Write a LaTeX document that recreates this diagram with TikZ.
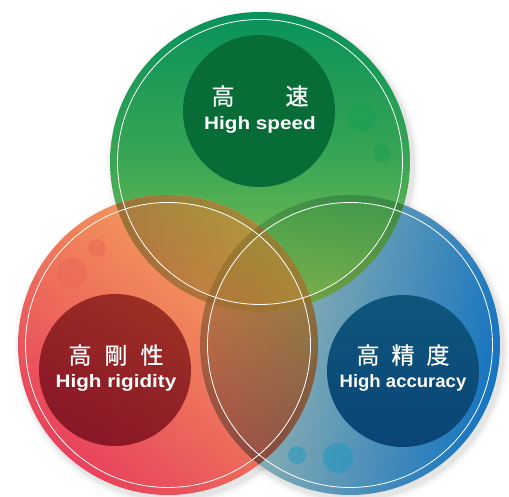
\documentclass[tikz,border=0pt]{standalone}
\usepackage{fontspec}
\setmainfont{Liberation Sans}
\newfontfamily\jpfont[FakeBold=0.6]{Noto Sans CJK JP}

% palette
\definecolor{grnTop}{RGB}{8,146,90}
\definecolor{grnMid}{RGB}{58,166,84}
\definecolor{grnBot}{RGB}{150,198,82}
\definecolor{redTop}{RGB}{246,174,90}
\definecolor{redBot}{RGB}{232,66,92}
\definecolor{bluL}{RGB}{176,194,174}
\definecolor{bluR}{RGB}{22,116,192}
\definecolor{grnCore}{RGB}{8,108,54}
\definecolor{redCoreT}{RGB}{156,46,36}
\definecolor{redCoreB}{RGB}{138,22,40}
\definecolor{bluCoreT}{RGB}{14,86,124}
\definecolor{bluCoreB}{RGB}{10,68,118}
\definecolor{grnDot}{RGB}{20,158,84}
\definecolor{redDot}{RGB}{232,100,84}
\definecolor{bluDot}{RGB}{20,150,194}

\tikzset{
  greenfill/.style={top color=grnTop, bottom color=grnBot, middle color=grnMid},
  redfill/.style={top color=redTop, bottom color=redBot, shading angle=-40},
  bluefill/.style={left color=bluL, right color=bluR, shading angle=78},
  rim/.style={draw=black, draw opacity=0.08, line width=7pt},
  ring/.style={draw=white, line width=0.8pt},
  dot/.style={fill opacity=0.45},
  jp/.style={text=white, inner sep=0pt, font=\jpfont\fontsize{23}{23}\selectfont},
  en/.style={text=white, inner sep=0pt, font=\bfseries\fontsize{18}{20}\selectfont},
}

\def\discG{(260,335) circle (150)}
\def\discR{(168,152) circle (150)}
\def\discB{(350,152) circle (150)}

\begin{document}
\begin{tikzpicture}[x=1pt,y=1pt]
\useasboundingbox (0,0) rectangle (509,497);

% soft drop shadows
\foreach \r/\o in {157/0.015,155/0.02,153/0.03,151.5/0.04} {
  \fill[black, fill opacity=\o] (263,331) circle (\r);
  \fill[black, fill opacity=\o] (171,148) circle (\r);
  \fill[black, fill opacity=\o] (353,148) circle (\r);
}

% three discs, opaque
\shade[greenfill] \discG;
\shade[redfill]   \discR;
\shade[bluefill]  \discB;

% red over blue: redraw red, tint with blue
\begin{scope}
  \clip \discB;
  \shade[redfill] \discR;
\end{scope}
\begin{scope}[blend mode=multiply]
  \clip \discR;
  \shade[bluefill, fill opacity=0.75] \discB;
\end{scope}

% green over blue: green with a light blue tint
\begin{scope}
  \clip \discG; \clip \discB;
  \shade[greenfill] \discG;
\end{scope}
\begin{scope}[blend mode=multiply]
  \clip \discG; \clip \discB;
  \shade[bluefill, fill opacity=0.3] \discB;
\end{scope}

% green over red, and the centre lens
\begin{scope}
  \clip \discG; \clip \discR;
  \shade[redfill] \discR;
\end{scope}
\begin{scope}[blend mode=multiply]
  \clip \discG; \clip \discR; \clip \discB;
  \shade[bluefill, fill opacity=0.25] \discB;
\end{scope}
\begin{scope}[blend mode=multiply]
  \clip \discR;
  \shade[greenfill, fill opacity=0.45] \discG;
\end{scope}

% darker rims where a disc edge crosses another disc
\begin{scope}
  \clip (260,335) circle (150) (350,152) circle (150);
  \draw[rim] (168,152) circle (146.5);
\end{scope}
\begin{scope}
  \clip (260,335) circle (150) (168,152) circle (150);
  \draw[rim] (350,152) circle (146.5);
\end{scope}
\begin{scope}
  \clip (168,152) circle (150) (350,152) circle (150);
  \draw[rim] (260,335) circle (146.5);
\end{scope}

% decorative bubbles
\fill[grnDot, dot] (362,379) circle (14);
\fill[grnDot, dot] (382,344) circle (9);
\fill[redDot, dot] (72,224) circle (15);
\fill[redDot, dot] (97,249) circle (9);
\fill[bluDot, dot] (338,39) circle (15);
\fill[bluDot, dot] (297,42) circle (9);

% thin white rings
\draw[ring] (260,335) circle (142.5);
\draw[ring] (168,152) circle (142.5);
\draw[ring] (350,152) circle (142.5);

% inner cores
\fill[grnCore] (259,386) circle (76);
\shade[top color=redCoreT, bottom color=redCoreB, shading angle=-30] (115,127) circle (76);
\shade[top color=bluCoreT, bottom color=bluCoreB] (403,126) circle (76);

% labels
\node[jp] (speedjp) at (260,401) {高\hspace{51pt}速};
\node[en] (speeden) at (260,372) {\scalebox{1.15}[1]{High speed}};
\node[jp] (rigidjp) at (116,142) {高\hspace{13pt}剛\hspace{13pt}性};
\node[en] (rigiden) at (116,114) {\scalebox{1.15}[1]{High rigidity}};
\node[jp] (accurjp) at (403,142) {高\hspace{12pt}精\hspace{12pt}度};
\node[en] (accuren) at (403,114) {\scalebox{1.03}[1]{High accuracy}};
\end{tikzpicture}
\end{document}
